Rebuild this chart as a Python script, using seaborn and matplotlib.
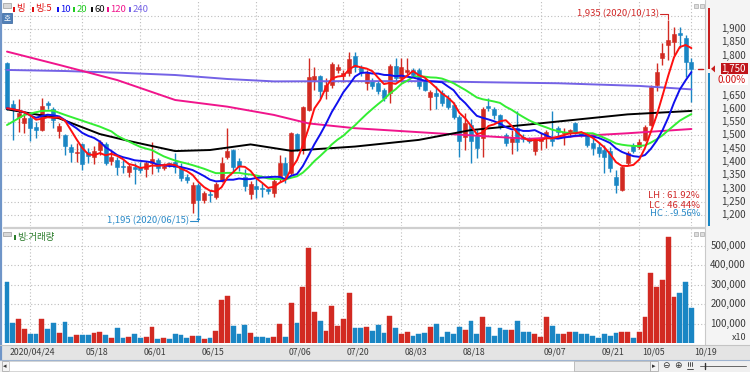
import numpy as np
import pandas as pd
import matplotlib
matplotlib.use("Agg")
import matplotlib.pyplot as plt
import seaborn as sns
from matplotlib.patches import Rectangle, Polygon

sns.set_theme(style="white")
plt.rcParams['font.family'] = ['Noto Sans CJK KR', 'DejaVu Sans']

# ---------------- data ----------------
date_labels = ["2020/04/24", "05/18", "06/01", "06/15", "07/06", "07/20",
               "08/03", "08/18", "09/07", "09/21", "10/05", "10/19"]
date_index = [0, 13, 23, 33, 48, 58, 68, 78, 92, 102, 109, 118]

opens = [1771, 1617, 1569, 1545, 1564, 1533, 1520, 1623, 1598, 1518,
         1500, 1456, 1432, 1467, 1436, 1420, 1445, 1467, 1405, 1407,
         1384, 1363, 1382, 1380, 1372, 1398, 1407, 1376, 1395, 1401,
         1380, 1345, 1245, 1313, 1257, 1280, 1270, 1330, 1418, 1445,
         1403, 1345, 1280, 1310, 1303, 1298, 1282, 1340, 1395, 1357,
         1505, 1445, 1597, 1710, 1722, 1668, 1690, 1746, 1722, 1735,
         1800, 1758, 1697, 1705, 1696, 1670, 1658, 1762, 1715, 1740,
         1745, 1746, 1708, 1645, 1660, 1660, 1640, 1614, 1568, 1495,
         1540, 1498, 1490, 1612, 1598, 1577, 1502, 1476, 1527, 1495,
         1489, 1440, 1480, 1495, 1488, 1527, 1508, 1508, 1545, 1510,
         1508, 1470, 1458, 1445, 1440, 1345, 1295, 1395, 1464, 1457,
         1483, 1539, 1690, 1790, 1840, 1852, 1884, 1867, 1777]
highs = [1776, 1633, 1637, 1584, 1577, 1551, 1640, 1628, 1608, 1546,
         1505, 1466, 1471, 1470, 1454, 1460, 1482, 1475, 1440, 1419,
         1407, 1395, 1395, 1400, 1404, 1476, 1415, 1395, 1400, 1432,
         1395, 1355, 1326, 1320, 1290, 1295, 1325, 1420, 1527, 1450,
         1415, 1375, 1330, 1340, 1320, 1305, 1335, 1426, 1420, 1514,
         1510, 1612, 1790, 1758, 1727, 1715, 1775, 1770, 1745, 1815,
         1815, 1765, 1745, 1715, 1705, 1680, 1770, 1790, 1790, 1790,
         1755, 1755, 1715, 1670, 1685, 1670, 1650, 1625, 1575, 1583,
         1560, 1520, 1605, 1640, 1605, 1580, 1510, 1520, 1590, 1505,
         1495, 1488, 1508, 1520, 1590, 1535, 1527, 1525, 1550, 1515,
         1512, 1490, 1475, 1465, 1455, 1370, 1385, 1440, 1470, 1485,
         1540, 1690, 1771, 1846, 1935, 1909, 1909, 1877, 1790]
lows = [1596, 1483, 1513, 1509, 1479, 1491, 1515, 1600, 1527, 1490,
        1426, 1401, 1401, 1370, 1395, 1392, 1426, 1389, 1389, 1350,
        1358, 1345, 1317, 1357, 1342, 1355, 1362, 1370, 1380, 1357,
        1330, 1320, 1207, 1195, 1245, 1250, 1260, 1325, 1413, 1362,
        1365, 1290, 1262, 1265, 1270, 1280, 1270, 1326, 1320, 1350,
        1440, 1430, 1590, 1672, 1640, 1635, 1680, 1735, 1700, 1725,
        1740, 1722, 1670, 1675, 1655, 1630, 1620, 1705, 1700, 1730,
        1720, 1675, 1665, 1596, 1598, 1612, 1600, 1560, 1420, 1445,
        1398, 1415, 1420, 1590, 1560, 1525, 1460, 1430, 1440, 1475,
        1470, 1426, 1445, 1451, 1460, 1495, 1464, 1495, 1505, 1495,
        1455, 1426, 1420, 1358, 1364, 1282, 1290, 1390, 1435, 1450,
        1478, 1535, 1665, 1765, 1783, 1802, 1827, 1721, 1627]
closes = [1602, 1595, 1584, 1567, 1529, 1520, 1612, 1613, 1557, 1535,
          1460, 1437, 1436, 1392, 1421, 1442, 1476, 1396, 1419, 1381,
          1380, 1385, 1372, 1370, 1397, 1410, 1378, 1385, 1388, 1382,
          1341, 1333, 1313, 1257, 1282, 1275, 1316, 1396, 1440, 1380,
          1385, 1308, 1318, 1300, 1297, 1290, 1328, 1395, 1352, 1508,
          1450, 1606, 1720, 1722, 1666, 1690, 1770, 1758, 1735, 1788,
          1758, 1740, 1735, 1685, 1665, 1640, 1762, 1716, 1758, 1746,
          1728, 1684, 1672, 1664, 1648, 1620, 1608, 1570, 1478, 1545,
          1478, 1452, 1598, 1603, 1577, 1535, 1472, 1492, 1475, 1485,
          1478, 1483, 1489, 1512, 1480, 1512, 1514, 1520, 1514, 1502,
          1465, 1452, 1435, 1420, 1377, 1313, 1382, 1433, 1440, 1476,
          1533, 1683, 1739, 1808, 1858, 1880, 1876, 1777, 1750]
volumes = [315000, 101000, 123000, 70000, 45000, 46000, 121000, 70000, 101000, 50000,
           106000, 32000, 40000, 40000, 40000, 53000, 55000, 40000, 27000, 75000,
           27000, 32000, 47000, 25000, 32000, 80000, 20000, 27000, 20000, 46000,
           40000, 27000, 37000, 37000, 20000, 25000, 61000, 220000, 241000, 87000,
           45000, 92000, 50000, 30000, 30000, 25000, 30000, 96000, 32000, 204000,
           104000, 286000, 486000, 161000, 113000, 61000, 190000, 87000, 121000, 255000,
           79000, 79000, 80000, 64000, 92000, 53000, 140000, 79000, 48000, 58000,
           37000, 45000, 50000, 80000, 96000, 32000, 58000, 47000, 80000, 67000,
           113000, 45000, 132000, 84000, 37000, 75000, 67000, 67000, 113000, 58000,
           58000, 47000, 32000, 132000, 87000, 47000, 45000, 55000, 55000, 47000,
           47000, 38000, 27000, 47000, 37000, 50000, 55000, 55000, 27000, 55000,
           135000, 360000, 286000, 323000, 545000, 237000, 258000, 314000, 178000]

# moving averages whose history starts before the chart (read at sample points)
ma20_early_idx = [0, 3, 6, 8, 10, 13, 16, 18]
ma20_early_val = [1539, 1577, 1592, 1593, 1577, 1555, 1533, 1515]
ma60_idx = [0, 9, 16, 21, 29, 35, 42, 49, 60, 71, 80, 90, 107, 118]
ma60_val = [1598, 1564, 1505, 1479, 1441, 1445, 1466, 1442, 1458, 1483, 1520, 1541, 1579, 1592]
ma120_idx = [0, 9, 19, 29, 38, 46, 52, 60, 74, 90, 107, 118]
ma120_val = [1815, 1765, 1708, 1633, 1608, 1577, 1545, 1527, 1508, 1487, 1508, 1524]
ma240_idx = [0, 10, 20, 29, 38, 46, 60, 72, 82, 95, 109, 118]
ma240_val = [1746, 1742, 1735, 1727, 1712, 1703, 1704, 1704, 1700, 1696, 1686, 1673]

price_ticks = [1900, 1850, 1800, 1650, 1600, 1550, 1500, 1450, 1400, 1350, 1300, 1250, 1200]
vol_ticks = [500000, 400000, 300000, 200000, 100000]
grid_idx = [4, 13, 23, 33, 43, 58, 68, 78, 92, 102, 109, 118]

# ---------------- styling ----------------
RED = '#d22a22'
BLUE = '#1a86c4'
C_MA5 = '#ff1010'
C_MA10 = '#1010ee'
C_MA20 = '#33ee33'
C_MA60 = '#000000'
C_MA120 = '#f0158c'
C_MA240 = '#7462e6'
GRID = '#bdbdbd'

W, H = 750, 372
fig = plt.figure(figsize=(7.5, 3.72), dpi=100)
fig.patch.set_facecolor('white')

def ix(px):
    return (px - 7) / 5.8

def yp(price):
    return 29 + (1900 - price) / 3.76

def yv(vol):
    return 343 - vol / 100000 * 19.5

# background / overlay axes in pixel coordinates
ax_bg = fig.add_axes([0, 0, 1, 1], zorder=0)
ax_bg.set_xlim(0, W); ax_bg.set_ylim(H, 0); ax_bg.axis('off')
ax_top = fig.add_axes([0, 0, 1, 1], zorder=10)
ax_top.set_xlim(0, W); ax_top.set_ylim(H, 0); ax_top.axis('off')
ax_top.patch.set_alpha(0)

ax_bg.add_patch(Rectangle((705, 0), 45, 345, facecolor='#f4f4f4', edgecolor='none'))
ax_bg.add_patch(Rectangle((0, 345), W, 15, facecolor='#e4e4e4', edgecolor='none'))
ax_bg.add_patch(Rectangle((0, 360), W, 12, facecolor='#f0f0f0', edgecolor='none'))

def make_axes(top, bottom):
    ax = fig.add_axes([4 / W, 1 - bottom / H, (705 - 4) / W, (bottom - top) / H], zorder=2)
    ax.patch.set_alpha(0)
    ax.set_xlim(ix(4), ix(705))
    for s in ax.spines.values():
        s.set_visible(False)
    ax.set_xticks([]); ax.set_yticks([])
    ax.set_xlabel(''); ax.set_ylabel('')
    return ax

ax_p = make_axes(0, 226)
ax_p.set_ylim(1900 - (226 - 29) * 3.76, 1900 + 29 * 3.76)
ax_v = make_axes(229, 343)
ax_v.set_ylim(0, (343 - 229) / 19.5 * 100000)

dotted = (0, (1, 2))
for p in range(1200, 2000, 50):
    ax_p.axhline(p, color=GRID, lw=0.8, ls=dotted, zorder=0)
for v in vol_ticks:
    ax_v.axhline(v, color=GRID, lw=0.8, ls=dotted, zorder=0)
for g in grid_idx:
    ax_p.axvline(g, color=GRID, lw=0.8, ls=dotted, zorder=0)
    ax_v.axvline(g, color=GRID, lw=0.8, ls=dotted, zorder=0)

n = len(closes)
idx = np.arange(n)
up = [c >= o for o, c in zip(opens, closes)]
cols = [RED if u else BLUE for u in up]

# candles
for i in range(n):
    ax_p.vlines(i, lows[i], highs[i], color=cols[i], lw=1.0, zorder=3)
    lo = min(opens[i], closes[i]); hi = max(opens[i], closes[i])
    h = max(hi - lo, 3.0)
    ax_p.add_patch(Rectangle((i - 0.36, lo), 0.72, h, facecolor=cols[i],
                             edgecolor=cols[i], lw=0.4, zorder=4))

# moving averages
s = pd.Series(closes, dtype=float)
ma5 = s.rolling(5, min_periods=1).mean()
ma10 = s.rolling(10, min_periods=1).mean()
ma20_full = s.rolling(20).mean()
ma20_x = list(ma20_early_idx) + list(range(19, n))
ma20_y = list(ma20_early_val) + list(ma20_full.iloc[19:])

lines = [
    (ma240_idx, ma240_val, C_MA240),
    (ma120_idx, ma120_val, C_MA120),
    (ma60_idx, ma60_val, C_MA60),
    (ma20_x, ma20_y, C_MA20),
    (list(idx), list(ma10), C_MA10),
    (list(idx), list(ma5), C_MA5),
]
for xs, ys, c in lines:
    df = pd.DataFrame({'x': xs, 'y': ys})
    sns.lineplot(data=df, x='x', y='y', ax=ax_p, color=c, lw=1.4, zorder=5,
                 estimator=None, sort=False, legend=False)
ax_p.set_xlabel(''); ax_p.set_ylabel('')
ax_p.set_xlim(ix(4), ix(705))

# volume bars
ax_v.bar(idx, volumes, width=0.8, color=cols, edgecolor=cols, lw=0.3, zorder=3)

# --------------- frame decorations ---------------
ax_top.plot([0.8, 0.8], [0, 360], color='#6f95c8', lw=1.6)
ax_top.plot([705, 705], [0, 345], color='#c9c9c9', lw=0.8)
ax_top.plot([4, 705], [227.5, 227.5], color='#cfcfcf', lw=1.6)
ax_top.plot([0, W], [345, 345], color='#c4c4c4', lw=0.8)
ax_top.plot([0, W], [360, 360], color='#9fb4d0', lw=0.8)

ax_top.add_patch(Rectangle((707.5, 8), 2.2, yp(1750) - 8, facecolor='#c81e1e', edgecolor='none'))
ax_top.add_patch(Rectangle((707.5, yp(1750) + 4), 2.2, 226 - yp(1750) - 4, facecolor='#1a86c4', edgecolor='none'))
ax_top.add_patch(Polygon([[711, yp(1750)], [715, yp(1750) - 3.5], [715, yp(1750) + 3.5]],
                         closed=True, facecolor='#c81e1e', edgecolor='none'))
ax_top.plot([698, 703], [yp(1750), yp(1750)], color='#c81e1e', lw=1)

fs = 7
for p in price_ticks:
    ax_top.text(746, yp(p), f"{p:,}", ha='right', va='center', fontsize=fs, color='#3a3a3a')
ax_top.add_patch(Rectangle((721, yp(1750) - 5.5), 27, 11, facecolor='#c0141a', edgecolor='none'))
ax_top.text(746, yp(1750), "1,750", ha='right', va='center', fontsize=fs, color='white')
ax_top.add_patch(Rectangle((721, yp(1750) + 6), 27, 10, facecolor='white', edgecolor='none'))
ax_top.text(746, yp(1750) + 11, "0.00%", ha='right', va='center', fontsize=fs, color='#d01010')

for v in vol_ticks:
    ax_top.text(746, yv(v), f"{v:,}", ha='right', va='center', fontsize=fs, color='#3a3a3a')
ax_top.text(746, 338, "x10", ha='right', va='center', fontsize=fs - 0.5, color='#3a3a3a')

for lab, i in zip(date_labels, date_index):
    ax_top.text(7 + 5.8 * i + 3, 352.5, lab, ha='left', va='center', fontsize=6.3, color='#3c3c3c')

# legend row
ax_top.add_patch(Rectangle((3, 3), 8, 5, facecolor='#d8d8d8', edgecolor='#9a9a9a', lw=0.5))
legend_items = [("빙", '#e01010', 13), ("빙:5", '#e01010', 32), ("10", '#1010ee', 57),
                ("20", '#22cc22', 73), ("60", '#111111', 91), ("120", '#f0158c', 107),
                ("240", '#7462e6', 129)]
for txt, c, x0 in legend_items:
    ax_top.add_patch(Rectangle((x0, 6.5), 2, 5, facecolor=c, edgecolor='none'))
    ax_top.text(x0 + 3.5, 9, txt, ha='left', va='center', fontsize=6.8, color=c)
ax_top.add_patch(Rectangle((2, 13), 10, 10, facecolor='#4f7fb8', edgecolor='#2f5f98', lw=0.5))
ax_top.text(7, 18, "호", ha='center', va='center', fontsize=5.5, color='white')

# volume legend
ax_top.add_patch(Rectangle((3, 232), 8, 4, facecolor='#d8d8d8', edgecolor='#9a9a9a', lw=0.5))
ax_top.add_patch(Rectangle((14, 235), 2, 5, facecolor='#2c7d2c', edgecolor='none'))
ax_top.text(17.5, 237.5, "빙:거래량", ha='left', va='center', fontsize=6.8, color='#2c7d2c')

for yy in (4, 232):
    ax_top.add_patch(Rectangle((694, yy), 4, 4, facecolor='#dddddd', edgecolor='#999999', lw=0.4))
    ax_top.add_patch(Rectangle((699.5, yy), 4, 4, facecolor='#dddddd', edgecolor='#999999', lw=0.4))

# high / low annotations
hi_i = int(np.argmax(highs)); lo_i = int(np.argmin(lows))
hx = 7 + 5.8 * hi_i
ax_top.text(hx - 9, 13.5, f"{highs[hi_i]:,} (2020/10/13)", ha='right', va='center',
            fontsize=6.8, color='#d02828')
ax_top.plot([hx - 8, hx, hx], [13.5, 13.5, yp(highs[hi_i]) - 1], color='#d02828', lw=0.8)
lx = 7 + 5.8 * lo_i
ax_top.text(lx - 9, 221, f"{lows[lo_i]:,} (2020/06/15)", ha='right', va='center',
            fontsize=6.8, color='#2a8ac8')
ax_top.plot([lx - 8, lx, lx], [221, 221, yp(lows[lo_i]) + 1], color='#2a8ac8', lw=0.8)
ax_top.add_patch(Polygon([[lx, yp(lows[lo_i]) + 0.5], [lx - 2, yp(lows[lo_i]) + 3.5],
                          [lx + 2, yp(lows[lo_i]) + 3.5]], facecolor='#2a8ac8', edgecolor='none'))

last = closes[-1]
lh = (highs[hi_i] - lows[lo_i]) / lows[lo_i] * 100
lc = (last - lows[lo_i]) / lows[lo_i] * 100
hc = (last - highs[hi_i]) / highs[hi_i] * 100
ax_top.text(700, 196, f"LH : {lh:.2f}%", ha='right', va='center', fontsize=6.8, color='#d02828')
ax_top.text(700, 205, f"LC : {lc:.2f}%", ha='right', va='center', fontsize=6.8, color='#d02828')
ax_top.text(700, 214, f"HC : {hc:.2f}%", ha='right', va='center', fontsize=6.8, color='#2a8ac8')

# scrollbar
ax_top.add_patch(Rectangle((1.5, 361), 7, 10, facecolor='#f4f4f4', edgecolor='#a0a0a0', lw=0.5))
ax_top.text(5, 366, "◂", ha='center', va='center', fontsize=5, color='#333333', family=['DejaVu Sans'])
ax_top.add_patch(Rectangle((9, 361), 565, 10, facecolor='white', edgecolor='#c8c8c8', lw=0.5))
ax_top.add_patch(Rectangle((574, 361), 76, 10, facecolor='#e8e8e8', edgecolor='#b0b0b0', lw=0.5))
ax_top.add_patch(Rectangle((650, 361), 8, 10, facecolor='#f4f4f4', edgecolor='#a0a0a0', lw=0.5))
ax_top.text(654, 366, "▸", ha='center', va='center', fontsize=5, color='#333333', family=['DejaVu Sans'])
ax_top.text(666, 366, "⊖", ha='center', va='center', fontsize=6.5, color='#333333', family=['DejaVu Sans'])
ax_top.text(678, 366, "⊕", ha='center', va='center', fontsize=6.5, color='#333333', family=['DejaVu Sans'])
for xx in (687.5, 689.5, 691.5):
    ax_top.plot([xx, xx], [362, 366], color='#333333', lw=0.6)
ax_top.plot([686.5, 692.5], [369, 369], color='#333333', lw=0.6)
ax_top.plot([700, 746], [366, 366], color='#666666', lw=0.7)
ax_top.plot([705, 705], [363, 369], color='#333333', lw=1)

fig.savefig("out.png", dpi=100)
